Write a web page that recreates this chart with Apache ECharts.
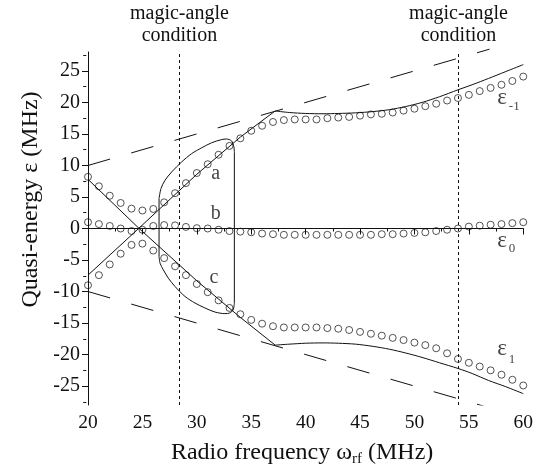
<!DOCTYPE html>
<html><head><meta charset="utf-8">
<script src="https://cdn.jsdelivr.net/npm/echarts@6/dist/echarts.min.js"></script>
<style>html,body{margin:0;padding:0;background:#fff}#c{width:536px;height:472px}</style>
</head><body><div id="c"></div>
<script>
// ---------- data ----------
const freq = [20,21,22,23,24,25,26,27,28,29,30,31,32,33,34,35,36,37,38,39,40,41,42,43,44,45,46,47,48,49,50,51,52,53,54,55,56,57,58,59,60];
const circlesUpper = [8.2,6.7,5.2,4.05,3.15,2.85,3.1,4.15,5.6,7.2,8.8,10.2,11.7,13.1,14.3,15.5,16.3,16.9,17.2,17.3,17.3,17.3,17.5,17.6,17.7,17.9,18.1,18.2,18.4,18.7,19.0,19.4,19.8,20.3,20.7,21.2,21.8,22.3,22.8,23.4,24.1];
const circlesMiddle = [1.0,0.7,0.4,0.0,-0.4,-0.2,0.4,0.55,0.5,0.25,0.05,0.0,-0.2,-0.4,-0.5,-0.6,-0.8,-0.9,-1.0,-1.0,-1.0,-1.0,-1.0,-1.0,-1.0,-1.0,-1.0,-0.9,-0.9,-0.8,-0.7,-0.6,-0.4,-0.2,0.0,0.3,0.45,0.6,0.7,0.85,1.0];
const circlesLower = [-9.0,-7.4,-5.7,-4.0,-2.6,-2.4,-3.5,-4.7,-6.0,-7.4,-8.8,-10.1,-11.4,-12.6,-13.6,-14.5,-15.1,-15.5,-15.7,-15.7,-15.7,-15.7,-15.8,-15.9,-16.1,-16.4,-16.7,-17.0,-17.35,-17.7,-18.1,-18.5,-19.0,-19.8,-20.7,-21.3,-21.9,-22.5,-23.2,-24.0,-24.9];

const lineRising = [[20,-7.4],[24.65,0],[30,8.6],[34,14.5],[37.2,18.65]];
const lineFalling = [[20,7.8],[24.7,0],[30,-8.3],[34,-14.1],[37.2,-18.5]];
const curveUpper = [[37.2,18.65],[38.5,18.4],[40,18.25],[41.6,18.2],[43,18.25],[44.6,18.35],[46.2,18.55],[47.7,18.85],[49.2,19.35],[50.7,20.0],[52.3,20.9],[54,22.0],[55.3,22.8],[56.8,23.8],[58.4,24.9],[60,26.0]];
const curveLower = [[37.2,-18.5],[38.5,-18.35],[40,-18.2],[41.6,-18.15],[43,-18.2],[44.6,-18.35],[46.2,-18.7],[47.7,-19.15],[49.2,-19.75],[50.7,-20.45],[52.3,-21.3],[54,-22.2],[55.3,-23.0],[56.8,-24.1],[58.4,-25.1],[60,-26.2]];
const zeroLine = [[20,0],[60,0]];
const dashUpper = [[20,10],[56.9,28.45]];
const dashLower = [[20,-10],[56.9,-28.45]];

const loopLeft = [[26.53,-4.45],[26.53,4.77]];
const loopTop = [[26.53,4.77],[26.71,6.35],[27.08,7.66],[27.69,8.97],[28.6,10.55],[29.52,11.87],[30.44,12.8],[31.36,13.6],[32.27,14.1],[32.73,14.2],[33.19,13.9],[33.4,13.0],[33.45,12.1]];
const loopRight = [[33.45,12.1],[33.45,-11.8]];
const loopBottom = [[33.45,-11.8],[33.34,-12.9],[33.03,-13.4],[32.58,-13.5],[31.66,-13.25],[30.74,-12.6],[29.83,-11.82],[28.91,-10.77],[27.99,-9.19],[27.38,-7.87],[26.92,-6.55],[26.62,-5.5],[26.53,-4.45]];

const magicAngle = [28.4, 54.05];
const magicText = 'magic-angle\ncondition';

const curveLabels = ['a','b','c'];
const curveLabelPos = [[31.78,8.6],[31.78,2.33],[31.62,-7.9]];
const epsGlyph = ['ε','ε','ε'];
const epsGlyphPos = [[57.65,20.65],[57.65,-2.05],[57.65,-19.25]];
const epsSub = ['-1','0','1'];
const epsSubPos = [[58.72,19.2],[58.72,-3.3],[58.72,-20.9]];

const xTickStep = 5;
const yTickValues = [-25,-20,-15,-10,-5,0,5,10,15,20,25];
const yMinorValues = [-27.5,-22.5,-17.5,-12.5,-7.5,-2.5,2.5,7.5,12.5,17.5,22.5,27.5];

// ---------- chart ----------
const font = 'Liberation Serif';
const ink = '#111';
const chart = echarts.init(document.getElementById('c'), null, {renderer:'canvas'});

function line(data, extra) {
  return Object.assign({
    type:'line', data: data, showSymbol:false, symbol:'none', silent:true,
    lineStyle:{color:ink, width:1}, z:3
  }, extra || {});
}
function circles(vals) {
  return {
    type:'scatter', data: freq.map((f,i)=>[f, vals[i]]), symbol:'circle', symbolSize:7,
    itemStyle:{color:'rgba(0,0,0,0)', borderColor:ink, borderWidth:0.9}, silent:true, z:4
  };
}
function textSeries(pos, texts, size, align) {
  return {
    type:'scatter', data: pos, symbolSize:1, itemStyle:{color:'rgba(0,0,0,0)'}, silent:true, z:5,
    label:{show:true, position:[0,0], align:align, verticalAlign:'middle',
      formatter: p => texts[p.dataIndex], fontFamily:font, fontSize:size, color:ink}
  };
}

const option = {
  animation:false,
  backgroundColor:'#fff',
  grid:{left:88, right:11, top:52, bottom:66},
  xAxis:{
    type:'value', min:20, max:60, interval:xTickStep,
    axisLine:{show:true, lineStyle:{color:ink, width:1}},
    axisTick:{show:true, inside:false, length:6, lineStyle:{color:ink}},
    minorTick:{show:true, splitNumber:2, length:3, lineStyle:{color:ink}},
    axisLabel:{fontFamily:font, fontSize:19.5, color:ink, margin:8},
    splitLine:{show:false}, minorSplitLine:{show:false},
    name:'{a|Radio frequency ω}{s|rf}{a| (MHz)}', nameLocation:'middle', nameGap:34,
    nameTextStyle:{fontFamily:font, fontSize:24, color:ink, padding:[0,7,0,0],
      rich:{a:{fontFamily:font, fontSize:24, lineHeight:28, color:ink},
            s:{fontFamily:font, fontSize:15, lineHeight:15, verticalAlign:'bottom', color:ink}}}
  },
  yAxis:[{
    type:'value', min:-28, max:28, position:'left',
    axisLine:{show:true, lineStyle:{color:ink, width:1}},
    axisTick:{show:true, inside:false, length:6, customValues:yTickValues, lineStyle:{color:ink}},
    axisLabel:{customValues:yTickValues, fontFamily:font, fontSize:20, color:ink, margin:8},
    splitLine:{show:false},
    name:'Quasi-energy ε (MHz)', nameLocation:'middle', nameGap:44,
    nameTextStyle:{fontFamily:font, fontSize:24, color:ink, padding:[0,0,0,58]}
  },{
    type:'value', min:-28, max:28, position:'right', offset:-437,
    axisLine:{show:false},
    axisTick:{show:true, inside:true, length:3, customValues:yMinorValues, lineStyle:{color:ink}},
    axisLabel:{show:false}, splitLine:{show:false}
  }],
  series:[
    line(zeroLine, {markLine:{
      symbol:'none', silent:true, animation:false,
      lineStyle:{color:ink, width:1, type:[3,3]},
      label:{show:true, position:'end', distance:5, formatter:magicText,
        fontFamily:font, fontSize:20, lineHeight:22, color:ink},
      data: magicAngle.map(v=>({xAxis:v}))
    }}),
    line(lineRising), line(lineFalling),
    line(curveUpper, {smooth:0.3}), line(curveLower, {smooth:0.3}),
    line(dashUpper, {clip:false, lineStyle:{color:ink, width:1, type:[23,22]}}),
    line(dashLower, {clip:true, lineStyle:{color:ink, width:1, type:[23,22]}}),
    line(loopLeft), line(loopTop, {smooth:0.3}), line(loopRight), line(loopBottom, {smooth:0.3}),
    circles(circlesUpper), circles(circlesMiddle), circles(circlesLower),
    textSeries(curveLabelPos, curveLabels, 20, 'center'),
    textSeries(epsGlyphPos, epsGlyph, 23, 'left'),
    textSeries(epsSubPos, epsSub, 13, 'left')
  ]
};
chart.setOption(option);
</script></body></html>
